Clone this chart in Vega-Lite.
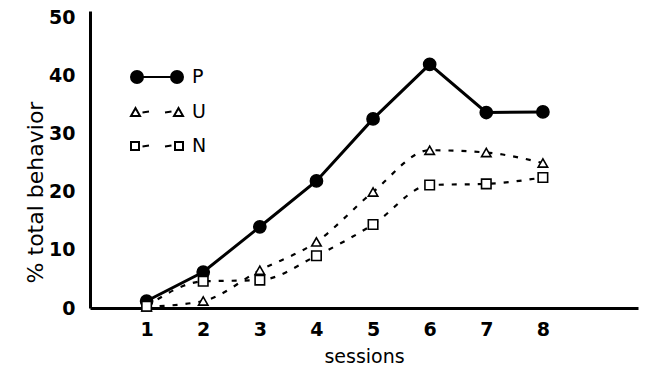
{
  "$schema": "https://vega.github.io/schema/vega-lite/v6.json",
  "width": 548,
  "height": 297,
  "autosize": {"type": "none"},
  "padding": {"left": 90, "top": 11, "right": 10, "bottom": 62},
  "background": "white",
  "config": {
    "view": {"stroke": null},
    "font": "DejaVu Sans",
    "axis": {
      "domainColor": "black",
      "domainWidth": 3,
      "ticks": false,
      "grid": false,
      "labelFont": "DejaVu Sans",
      "labelFontWeight": "bold",
      "labelFontSize": 19,
      "labelColor": "black",
      "titleFont": "DejaVu Sans",
      "titleFontWeight": "normal",
      "titleColor": "black"
    }
  },
  "data": {
    "values": [
      {"session": 1, "series": "P", "value": 1.2},
      {"session": 2, "series": "P", "value": 6.2},
      {"session": 3, "series": "P", "value": 14.0},
      {"session": 4, "series": "P", "value": 21.9},
      {"session": 5, "series": "P", "value": 32.6},
      {"session": 6, "series": "P", "value": 42.0},
      {"session": 7, "series": "P", "value": 33.7},
      {"session": 8, "series": "P", "value": 33.8},
      {"session": 1, "series": "U", "value": 0.2},
      {"session": 2, "series": "U", "value": 1.2},
      {"session": 3, "series": "U", "value": 6.5},
      {"session": 4, "series": "U", "value": 11.4},
      {"session": 5, "series": "U", "value": 20.0},
      {"session": 6, "series": "U", "value": 27.2},
      {"session": 7, "series": "U", "value": 26.8},
      {"session": 8, "series": "U", "value": 25.0},
      {"session": 1, "series": "N", "value": 0.3},
      {"session": 2, "series": "N", "value": 4.6},
      {"session": 3, "series": "N", "value": 4.8},
      {"session": 4, "series": "N", "value": 9.0},
      {"session": 5, "series": "N", "value": 14.4},
      {"session": 6, "series": "N", "value": 21.2},
      {"session": 7, "series": "N", "value": 21.4},
      {"session": 8, "series": "N", "value": 22.5}
    ]
  },
  "encoding": {
    "x": {
      "field": "session",
      "type": "quantitative",
      "scale": {"domain": [0, 9.68], "nice": false, "zero": false},
      "axis": {"values": [1, 2, 3, 4, 5, 6, 7, 8], "title": "sessions", "titleFontSize": 19, "titlePadding": 8, "labelPadding": 12, "labelFlush": false}
    },
    "y": {
      "field": "value",
      "type": "quantitative",
      "scale": {"domain": [0, 51.2], "nice": false},
      "axis": {"values": [0, 10, 20, 30, 40, 50], "title": "% total behavior", "titleFontSize": 22, "titlePadding": 1, "titleY": 181, "labelPadding": 15}
    }
  },
  "layer": [
    {
      "transform": [{"filter": "datum.series === 'P'"}],
      "mark": {"type": "line", "interpolate": "linear", "color": "black", "strokeWidth": 3}
    },
    {
      "transform": [{"filter": "datum.series !== 'P'"}],
      "mark": {"type": "line", "interpolate": "monotone", "color": "black", "strokeWidth": 2.2, "strokeDash": [5, 8]},
      "encoding": {"detail": {"field": "series"}}
    },
    {
      "mark": {"type": "point", "filled": true, "strokeWidth": 2, "opacity": 0},
      "encoding": {
        "shape": {
          "field": "series",
          "type": "nominal",
          "scale": {"domain": ["P", "U", "N"], "range": [
            "M-1,0A0.6,0.6,0,1,0,0.2,0A0.6,0.6,0,1,0,-1,0ZM0.2,0L3.0,0M3.0,0A0.6,0.6,0,1,0,4.2,0A0.6,0.6,0,1,0,3.0,0Z",
            "M-1,0.4L-0.1,0.4L-0.55,-0.4ZM0.15,0.05L0.8,-0.05M2.4,0.05L3.05,-0.05M3.3,0.4L4.2,0.4L3.75,-0.4Z",
            "M-1,-0.4L-0.2,-0.4L-0.2,0.4L-1,0.4ZM0.15,0.05L0.8,-0.05M2.4,0.05L3.05,-0.05M3.4,-0.4L4.2,-0.4L4.2,0.4L3.4,0.4Z"
          ]},
          "legend": {
            "title": null,
            "orient": "none",
            "legendX": 40,
            "legendY": 55,
            "rowPadding": 13,
            "labelOffset": 40,
            "labelFontSize": 19,
            "labelFont": "DejaVu Sans",
            "labelColor": "black",
            "symbolSize": 400,
            "symbolOpacity": 1,
            "symbolStrokeWidth": 2
          }
        },
        "fill": {
          "field": "series",
          "type": "nominal",
          "scale": {"domain": ["P", "U", "N"], "range": ["black", "white", "white"]},
          "legend": {"title": null, "orient": "none", "legendX": 40, "legendY": 55}
        },
        "stroke": {
          "field": "series",
          "type": "nominal",
          "scale": {"domain": ["P", "U", "N"], "range": ["black", "black", "black"]},
          "legend": {"title": null, "orient": "none", "legendX": 40, "legendY": 55}
        }
      }
    },
    {
      "mark": {"type": "point", "filled": false, "opacity": 1, "stroke": "black"},
      "encoding": {
        "shape": {
          "field": "series",
          "type": "nominal",
          "scale": {"domain": ["P", "U", "N"], "range": ["circle", "triangle-up", "square"]},
          "legend": null
        },
        "fill": {"condition": {"test": "datum.series === 'P'", "value": "black"}, "value": "white"},
        "size": {"condition": {"test": "datum.series === 'P'", "value": 150}, "value": 90},
        "strokeWidth": {"condition": {"test": "datum.series === 'P'", "value": 1.5}, "value": 1.6}
      }
    }
  ],
  "resolve": {"scale": {"shape": "independent", "fill": "independent", "stroke": "independent"}}
}
